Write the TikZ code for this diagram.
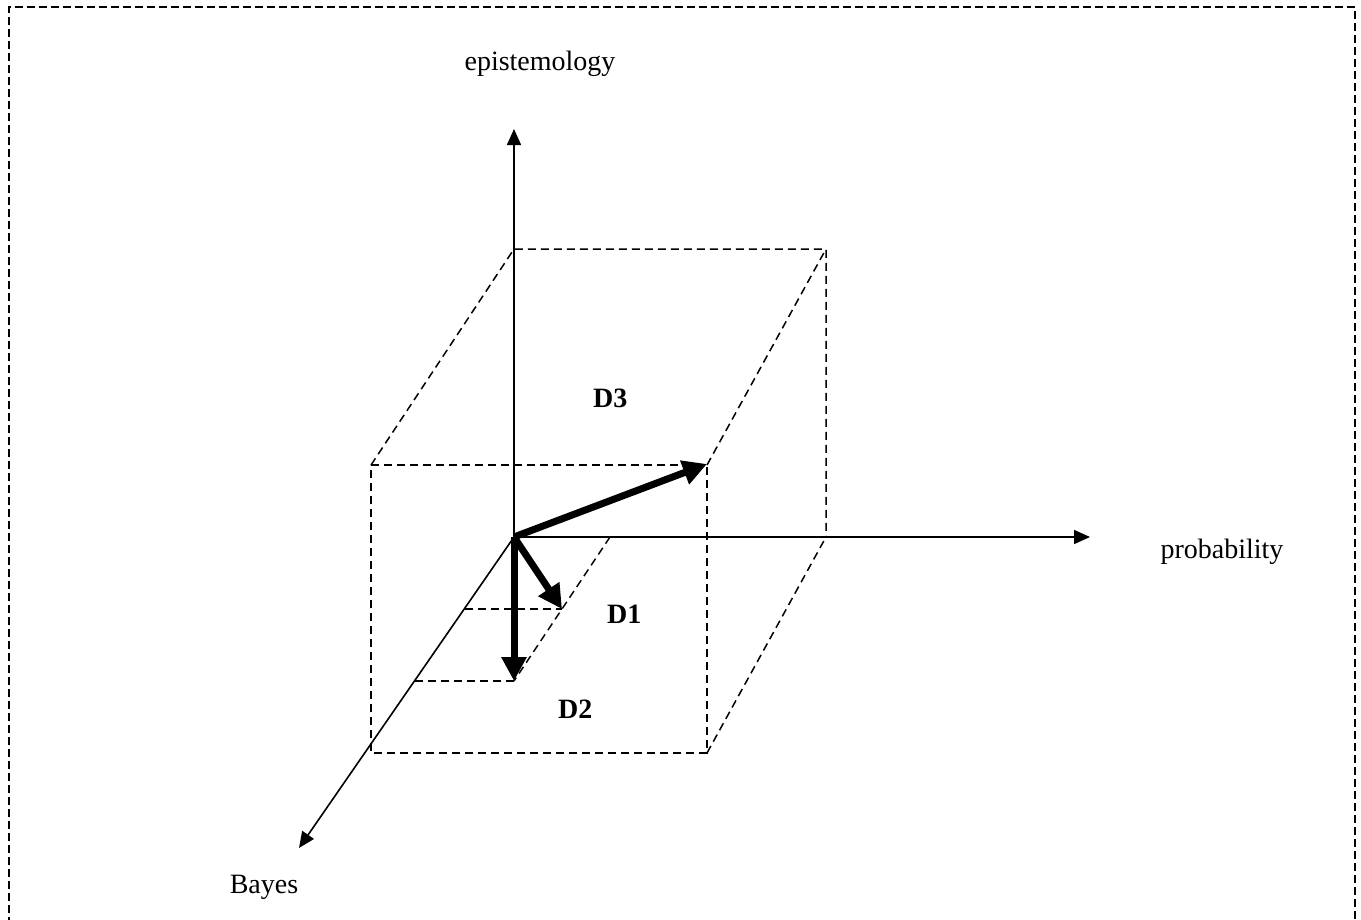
\documentclass[tikz,border=0pt]{standalone}
\usepackage{fontspec}
\setmainfont{Liberation Serif}
\usetikzlibrary{arrows.meta}
\begin{document}
\begin{tikzpicture}[x=1pt,y=-1pt,
  axis/.style={line width=1.6pt,-{Triangle[length=16pt,width=14pt]}},
  vec/.style={line width=7pt,-{Triangle[length=24pt,width=24pt]}},
  edge/.style={line width=1.5pt,dash pattern=on 8pt off 5pt},
  frame/.style={line width=1.5pt,dash pattern=on 8pt off 4pt},
  lbl/.style={font=\fontsize{28}{34}\selectfont,inner sep=0pt,anchor=base},
  dlbl/.style={font=\fontsize{28}{34}\selectfont\bfseries,inner sep=0pt,anchor=base west}]
\useasboundingbox (0,0) rectangle (1361,919);
\draw[frame] (9,925) -- (9,7) -- (1355,7) -- (1355,925);
% coordinates
\coordinate (O) at (514,537);
\coordinate (Ztip) at (514,129);
\coordinate (Xtip) at (1090,537);
\coordinate (Ytip) at (299,848);
\coordinate (FTL) at (371,465);
\coordinate (FTR) at (707,465);
\coordinate (FBL) at (371,753);
\coordinate (FBR) at (707,753);
\coordinate (BTL) at (514,249);
\coordinate (BTR) at (826,249);
\coordinate (BBR) at (826,537);
\coordinate (S1) at (610,537);
\coordinate (S2) at (562,609);
\coordinate (S3) at (514,681);
\coordinate (S1L) at (465,609);
\coordinate (S3L) at (415,681);
% box
\draw[edge] (FTL) -- (FTR) -- (FBR) -- (FBL) -- cycle;
\draw[edge] (FTL) -- (BTL) -- (BTR) -- (BBR);
\draw[edge] (FTR) -- (BTR);
\draw[edge] (FBR) -- (BBR);
\draw[edge] (S1) -- (S2) -- (S3);
\draw[edge] (S1L) -- (S2);
\draw[edge] (S3L) -- (S3);
% axes
\draw[axis] (O) -- (Ztip);
\draw[axis] (O) -- (Xtip);
\draw[axis] (O) -- (Ytip);
% vectors
\draw[vec] (O) -- (707,464);
\draw[vec] (O) -- (S2);
\draw[vec] (O) -- (S3);
% labels
\node[lbl] (ep) at (540,70) {epistemology};
\node[lbl] (pr) at (1222,558) {probability};
\node[lbl] (ba) at (264,893) {Bayes};
\node[dlbl] (d3) at (593,407) {D3};
\node[dlbl] (d1) at (607,623) {D1};
\node[dlbl] (d2) at (558,718) {D2};
\end{tikzpicture}
\end{document}
